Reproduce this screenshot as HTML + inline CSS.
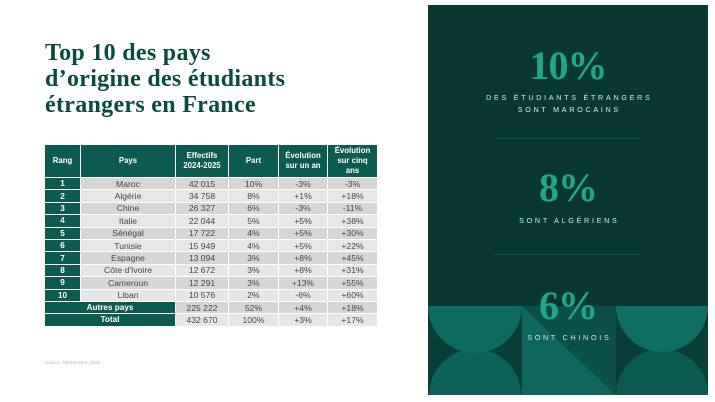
<!DOCTYPE html>
<html><head><meta charset="utf-8"><style>
*{margin:0;padding:0;box-sizing:border-box}
html,body{width:715px;height:402px;overflow:hidden;background:#fff}
body{position:relative;font-family:"Liberation Sans",sans-serif}
.title{position:absolute;left:45px;top:40px;font-family:"Liberation Serif",serif;font-weight:bold;font-size:24px;line-height:26px;color:#0b4a3f;letter-spacing:0.3px}
.tbl{position:absolute;left:45px;top:145px;display:grid;grid-template-columns:35px 94px 52px 49px 48px 49px;grid-template-rows:32px repeat(12,11.4px);column-gap:1px;row-gap:1px}
.tbl div{display:flex;align-items:center;justify-content:center;text-align:center;font-size:8.6px;color:#454545;white-space:nowrap}
.tbl .h{background:#0c5b50;color:#fff;font-size:7.8px;line-height:10.3px;font-weight:bold;white-space:normal}
.tbl .r{background:#0c5b50;color:#fff;font-weight:bold;font-size:8.2px}
.tbl .o{background:#d6d6d6}
.tbl .e{background:#e7e7e7}
.tbl .sp{grid-column:1 / span 2}
.src{position:absolute;left:45px;top:360px;font-size:4.5px;color:#b8b8b8}
.panel{position:absolute;left:428px;top:5px;width:280px;height:390px;background:#093833;overflow:hidden}
.big{position:absolute;left:0;width:280px;text-align:center;font-family:"Liberation Serif",serif;font-weight:bold;font-size:40px;line-height:42px;color:#21a68a;letter-spacing:-1px}
.lab{position:absolute;left:0;width:280px;text-align:center;font-size:7.2px;line-height:12px;color:#dbe9e5;letter-spacing:2.7px;padding-left:2.7px}
.div{position:absolute;left:67px;width:145px;height:1px;background:#17514b}
svg{position:absolute;left:0;top:301px;display:block}
</style></head><body>
<div class="title">Top 10 des pays<br>d’origine des étudiants<br>étrangers en France</div>

<div class="tbl">
<div class="h">Rang</div><div class="h">Pays</div><div class="h">Effectifs<br>2024-2025</div><div class="h">Part</div><div class="h">Évolution<br>sur un an</div><div class="h">Évolution<br>sur cinq<br>ans</div>

<div class="r">1</div><div class="o">Maroc</div><div class="o">42 015</div><div class="o">10%</div><div class="o">-3%</div><div class="o">-3%</div>
<div class="r">2</div><div class="e">Algérie</div><div class="e">34 758</div><div class="e">8%</div><div class="e">+1%</div><div class="e">+18%</div>
<div class="r">3</div><div class="o">Chine</div><div class="o">26 327</div><div class="o">6%</div><div class="o">-3%</div><div class="o">-11%</div>
<div class="r">4</div><div class="e">Italie</div><div class="e">22 044</div><div class="e">5%</div><div class="e">+5%</div><div class="e">+38%</div>
<div class="r">5</div><div class="o">Sénégal</div><div class="o">17 722</div><div class="o">4%</div><div class="o">+5%</div><div class="o">+30%</div>
<div class="r">6</div><div class="e">Tunisie</div><div class="e">15 949</div><div class="e">4%</div><div class="e">+5%</div><div class="e">+22%</div>
<div class="r">7</div><div class="o">Espagne</div><div class="o">13 094</div><div class="o">3%</div><div class="o">+8%</div><div class="o">+45%</div>
<div class="r">8</div><div class="e">Côte d'Ivoire</div><div class="e">12 672</div><div class="e">3%</div><div class="e">+8%</div><div class="e">+31%</div>
<div class="r">9</div><div class="o">Cameroun</div><div class="o">12 291</div><div class="o">3%</div><div class="o">+13%</div><div class="o">+55%</div>
<div class="r">10</div><div class="e">Liban</div><div class="e">10 576</div><div class="e">2%</div><div class="e">-6%</div><div class="e">+60%</div>
<div class="r sp">Autres pays</div><div class="o">225 222</div><div class="o">52%</div><div class="o">+4%</div><div class="o">+18%</div>
<div class="r sp">Total</div><div class="e">432 670</div><div class="e">100%</div><div class="e">+3%</div><div class="e">+17%</div>
</div>

<div class="src">Source : MESR/SIES, 2025.</div>

<div class="panel">
<svg width="280" height="89" viewBox="0 0 280 89">
  <rect x="0" y="0" width="280" height="89" fill="#0a3d38"/>
  <path d="M1,89 A46,46 0 0 1 93,89 Z" fill="#0c625a"/>
  <path d="M0,0 A47,47 0 0 0 94,0 Z" fill="#0e6a61"/>
  <polygon points="94,0 188,89 94,89" fill="#0e665e"/>
  <polygon points="94,0 188,0 188,89" fill="#0b4f49"/>
  <path d="M188,89 A46,46 0 0 1 280,89 Z" fill="#0b5a52"/>
  <path d="M188,0 A46,46 0 0 0 280,0 Z" fill="#0f6d64"/>
</svg>
<div class="big" style="top:40px">10%</div>
<div class="lab" style="top:87px">DES ÉTUDIANTS ÉTRANGERS<br>SONT MAROCAINS</div>
<div class="div" style="top:133px"></div>
<div class="big" style="top:162px">8%</div>
<div class="lab" style="top:210px">SONT ALGÉRIENS</div>
<div class="div" style="top:249px"></div>
<div class="big" style="top:280px">6%</div>
<div class="lab" style="top:327px">SONT CHINOIS</div>
</div>
</body></html>
